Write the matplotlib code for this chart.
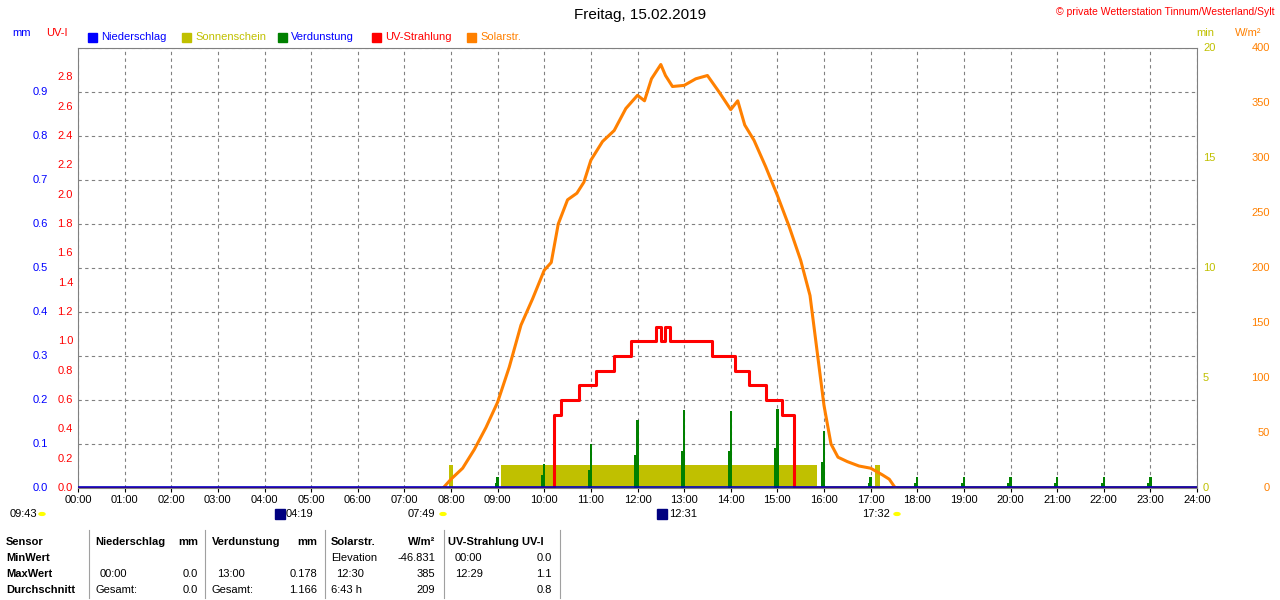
import matplotlib
matplotlib.use("Agg")
import matplotlib.pyplot as plt
import numpy as np

plt.rcParams['font.family'] = ['Liberation Sans', 'DejaVu Sans']
plt.rcParams['font.size'] = 8

solar_t = [7.83, 8.0, 8.25, 8.5, 8.75, 9.0, 9.25, 9.5, 9.75, 10.0, 10.15, 10.3, 10.5, 10.7, 10.85, 11.0, 11.25, 11.5, 11.75, 12.0, 12.15, 12.3, 12.5, 12.6, 12.75, 13.0, 13.25, 13.5, 13.75, 14.0, 14.15, 14.3, 14.5, 14.75, 15.0, 15.25, 15.5, 15.7, 15.85, 16.0, 16.15, 16.3, 16.5, 16.75, 17.0, 17.25, 17.4, 17.53]
solar_v = [0, 8, 18, 35, 55, 78, 110, 148, 172, 198, 205, 240, 262, 268, 278, 298, 315, 325, 345, 357, 352, 372, 385, 375, 365, 366, 372, 375, 360, 344, 352, 330, 316, 292, 266, 238, 207, 175, 125, 75, 40, 28, 24, 20, 18, 12, 8, 0]

uv_t = [0, 10.2, 10.2, 10.35, 10.35, 10.75, 10.75, 11.1, 11.1, 11.5, 11.5, 11.85, 11.85, 12.4, 12.4, 12.5, 12.5, 12.6, 12.6, 12.7, 12.7, 13.6, 13.6, 14.1, 14.1, 14.4, 14.4, 14.75, 14.75, 15.1, 15.1, 15.35, 15.35, 24]
uv_v = [0, 0, 0.5, 0.5, 0.6, 0.6, 0.7, 0.7, 0.8, 0.8, 0.9, 0.9, 1.0, 1.0, 1.1, 1.1, 1.0, 1.0, 1.1, 1.1, 1.0, 1.0, 0.9, 0.9, 0.8, 0.8, 0.7, 0.7, 0.6, 0.6, 0.5, 0.5, 0, 0]

evap_t = [9, 10, 11, 12, 13, 14, 15, 16, 17, 18, 19, 20, 21, 22, 23]
evap_v = [0.025, 0.055, 0.1, 0.155, 0.178, 0.175, 0.18, 0.13, 0.025, 0.025, 0.025, 0.025, 0.025, 0.025, 0.025]
evap_pre = [0.012, 0.03, 0.04, 0.075, 0.085, 0.085, 0.09, 0.06, 0.012, 0.012, 0.012, 0.012, 0.012, 0.012, 0.012]

sun_start = [7.95, 9.07, 17.1]
sun_end = [8.05, 15.85, 17.2]
sun_v = [1.05, 1.05, 1.05]

hours = ["%02d:00" % h for h in range(25)]
mm_ticks = [0.0, 0.1, 0.2, 0.3, 0.4, 0.5, 0.6, 0.7, 0.8, 0.9]
uv_ticks = [0.0, 0.2, 0.4, 0.6, 0.8, 1.0, 1.2, 1.4, 1.6, 1.8, 2.0, 2.2, 2.4, 2.6, 2.8]
min_ticks = [0, 5, 10, 15, 20]
w_ticks = [0, 50, 100, 150, 200, 250, 300, 350, 400]

W, H = 1280, 600
fig = plt.figure(figsize=(12.8, 6.0), dpi=100)
L, R, T, B = 78, 1197, 48, 488
ax = fig.add_axes([L / W, 1 - B / H, (R - L) / W, (B - T) / H])
ax.set_xlim(0, 24)
ax.set_ylim(0, 400)
ax.set_xticks(range(25))
ax.set_xticklabels(hours)
ax.set_yticks(np.arange(0, 401, 40))
ax.set_yticklabels([])
ax.tick_params(axis='y', length=0)
ax.tick_params(axis='x', length=3, pad=2)
ax.grid(True, color='#808080', linestyle=(0, (3, 3)), linewidth=0.8)
for s in ax.spines.values():
    s.set_color('#808080')

for a, b, v in zip(sun_start, sun_end, sun_v):
    ax.bar(a, v * 20, width=b - a, align='edge', color='#c0c000', zorder=2)
ax.bar(13.0, 2, width=11, align='edge', color='#c0c000', zorder=2)
et = np.array(evap_t)
ax.bar(et - 0.04, np.array(evap_pre) * 400, width=0.05, color='#008000', zorder=3)
ax.bar(et, np.array(evap_v) * 400, width=0.05, color='#008000', zorder=3)
ax.plot(uv_t, np.array(uv_v) * 400 / 3.0, color='#ff0000', lw=2.2, zorder=4)
ax.plot(solar_t, solar_v, color='#ff8000', lw=2.2, zorder=5)
ax.axhline(1, color='#0000c0', lw=1.2, zorder=6)

def yp(v, vmax):
    return 1 - (B - (B - T) * v / vmax) / H

for v in mm_ticks:
    fig.text(48 / W, yp(v, 1.0), "%.1f" % v, color='#0000ff', ha='right', va='center')
for v in uv_ticks:
    fig.text(73 / W, yp(v, 3.0), "%.1f" % v, color='#ff0000', ha='right', va='center')
for v in min_ticks:
    fig.text(1203 / W, yp(v, 20), "%d" % v, color='#c0c000', ha='left', va='center')
for v in w_ticks:
    fig.text(1270 / W, yp(v, 400), "%d" % v, color='#ff8000', ha='right', va='center')

def ft(x, y, s, **kw):
    fig.text(x / W, 1 - y / H, s, **kw)

ft(640, 15, "Freitag, 15.02.2019", ha='center', va='center', fontsize=11)
ft(1275, 12, "© private Wetterstation Tinnum/Westerland/Sylt", ha='right', va='center', color='#ff0000', fontsize=7.5)
ft(22, 33, "mm", color='#0000ff', ha='center', va='center')
ft(57, 33, "UV-I", color='#ff0000', ha='center', va='center')
ft(1205, 33, "min", color='#c0c000', ha='center', va='center')
ft(1248, 33, "W/m²", color='#ff8000', ha='center', va='center')
leg = [(88, '#0000ff', 'Niederschlag', '#0000ff'), (182, '#c0c000', 'Sonnenschein', '#c0c000'),
       (278, '#008000', 'Verdunstung', '#0000ff'), (372, '#ff0000', 'UV-Strahlung', '#ff0000'),
       (467, '#ff8000', 'Solarstr.', '#ff8000')]
for x, c, s, tc in leg:
    fig.patches.append(plt.Rectangle((x / W, 1 - 42 / H), 9 / W, 9 / H, transform=fig.transFigure, color=c))
    ft(x + 13, 37, s, color=tc, va='center')

ft(10, 514, "09:43", va='center')
ft(286, 514, "04:19", va='center')
ft(408, 514, "07:49", va='center')
ft(669, 514, "12:31", va='center')
ft(862, 514, "17:32", va='center')
for x in [42, 443, 897]:
    fig.patches.append(plt.Circle((x / W, 1 - 514 / H), 3 / W, transform=fig.transFigure, color='#ffff00'))
for x in [275, 657]:
    fig.patches.append(plt.Rectangle((x / W, 1 - 519 / H), 10 / W, 10 / H, transform=fig.transFigure, color='#000080'))

rows_y = [542, 558, 574, 590]
for y, s in zip(rows_y, ["Sensor", "MinWert", "MaxWert", "Durchschnitt"]):
    ft(6, y, s, va='center', fontweight='bold')
for x in [89, 205, 325, 444, 560]:
    fig.lines.append(plt.Line2D([x / W] * 2, [1 - 530 / H, 1 - 598 / H], transform=fig.transFigure, color='#a0a0a0', lw=0.8))
hdr = [(95, "Niederschlag", 'left'), (198, "mm", 'right'), (212, "Verdunstung", 'left'), (317, "mm", 'right'),
       (331, "Solarstr.", 'left'), (435, "W/m²", 'right'), (448, "UV-Strahlung UV-I", 'left')]
for x, s, ha in hdr:
    ft(x, 542, s, ha=ha, va='center', fontweight='bold')
cells = [(331, 558, "Elevation", 'left'), (435, 558, "-46.831", 'right'), (455, 558, "00:00", 'left'), (552, 558, "0.0", 'right'),
         (100, 574, "00:00", 'left'), (198, 574, "0.0", 'right'), (217, 574, "13:00", 'left'), (317, 574, "0.178", 'right'),
         (336, 574, "12:30", 'left'), (435, 574, "385", 'right'), (455, 574, "12:29", 'left'), (552, 574, "1.1", 'right'),
         (95, 590, "Gesamt:", 'left'), (198, 590, "0.0", 'right'), (212, 590, "Gesamt:", 'left'), (317, 590, "1.166", 'right'),
         (331, 590, "6:43 h", 'left'), (435, 590, "209", 'right'), (552, 590, "0.8", 'right')]
for x, y, s, ha in cells:
    ft(x, y, s, ha=ha, va='center')

fig.savefig("out.png", dpi=100)
